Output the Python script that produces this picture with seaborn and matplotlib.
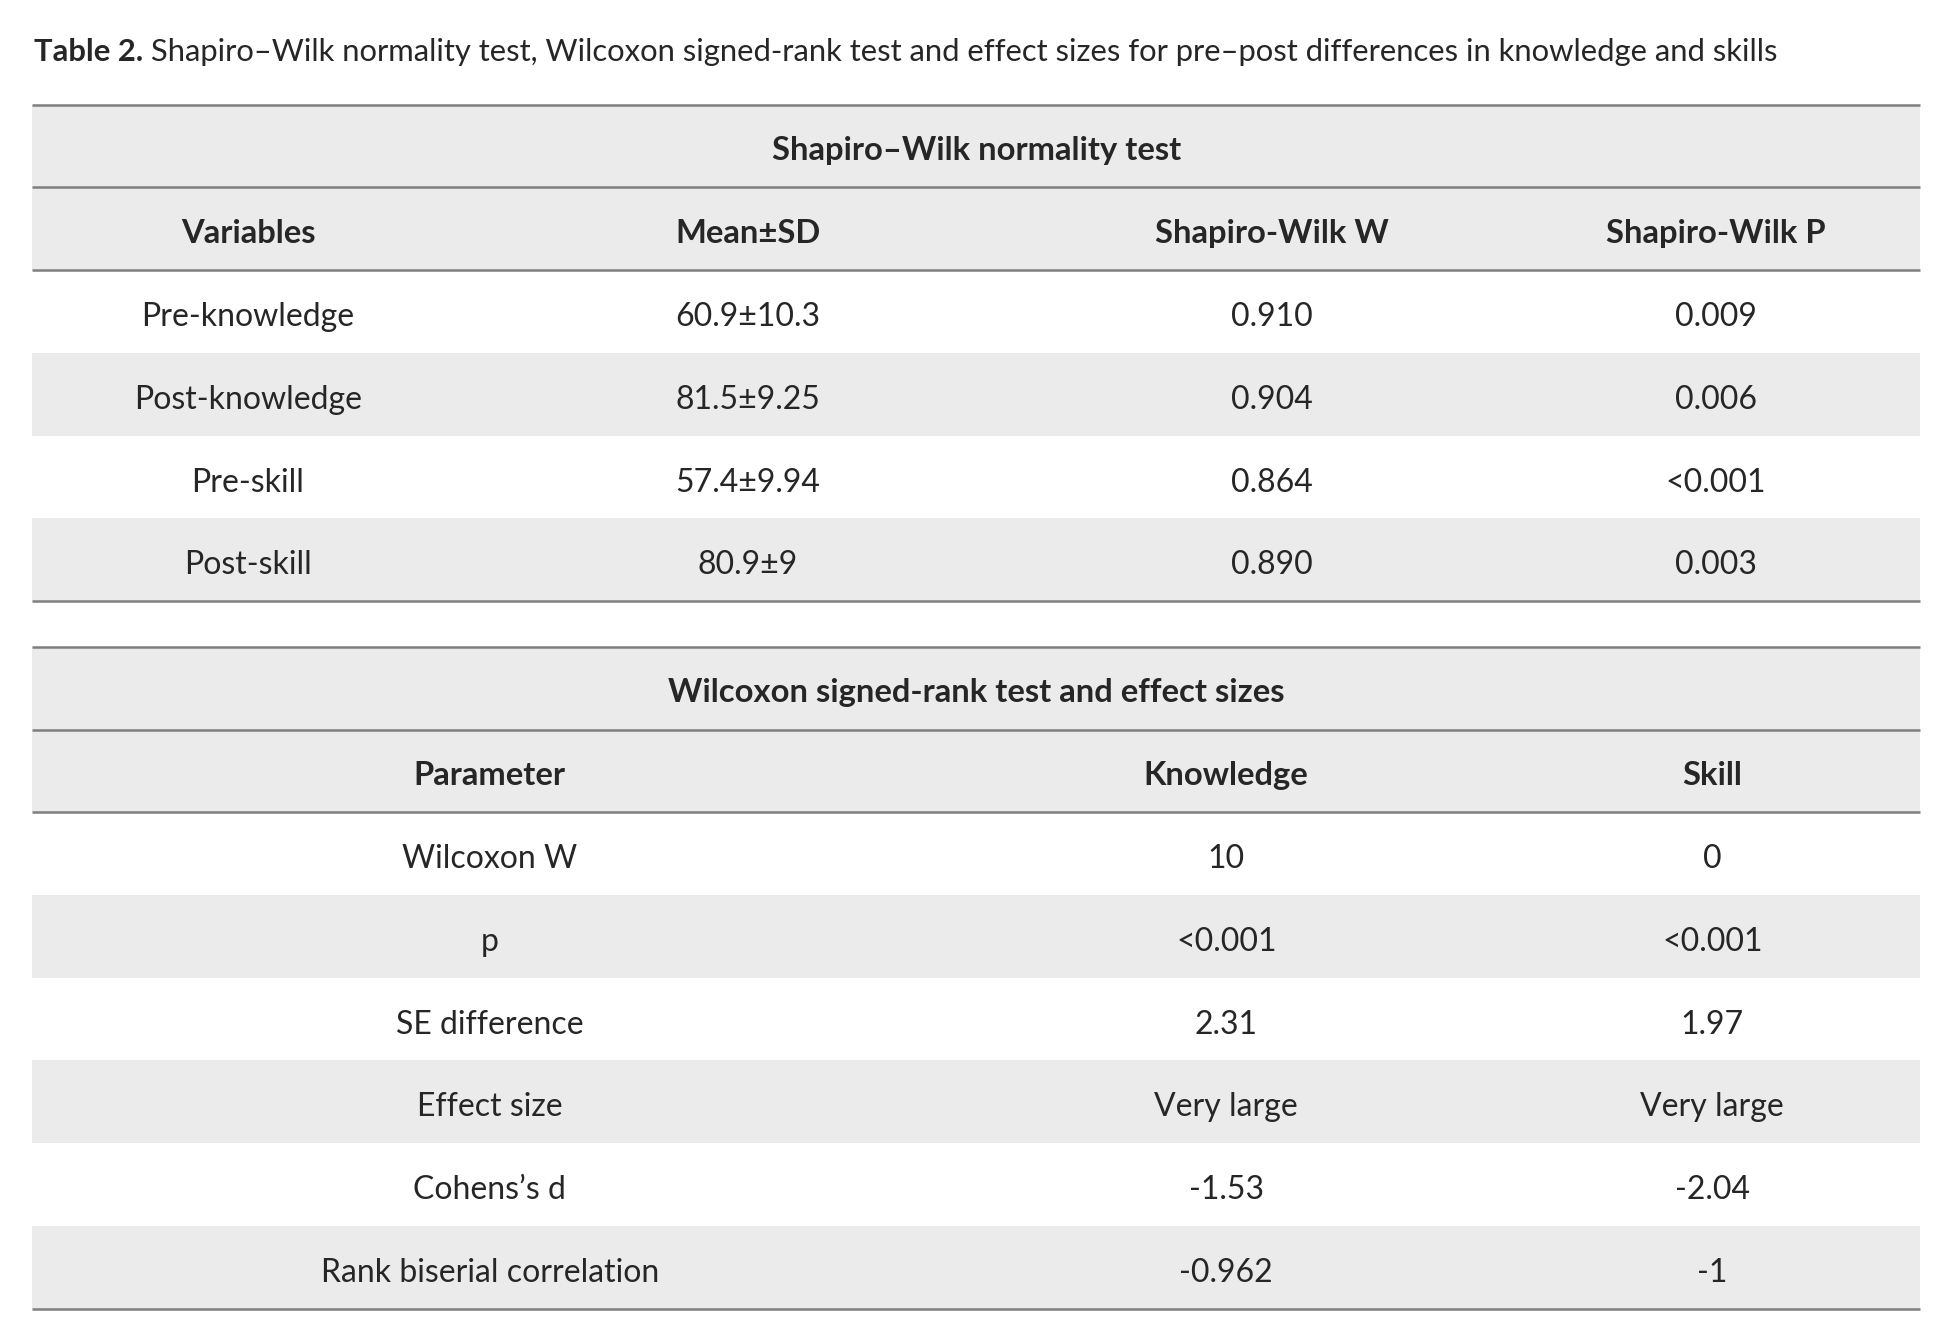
import matplotlib
matplotlib.use("Agg")
import matplotlib.pyplot as plt
import seaborn as sns

sns.set_theme(style="white")
plt.rcParams['font.family'] = ['Lato', 'DejaVu Sans']

# Table data
caption_bold = "Table 2."
caption_text = " Shapiro–Wilk normality test, Wilcoxon signed-rank test and effect sizes for pre–post differences in knowledge and skills"

sw_title = "Shapiro–Wilk normality test"
sw_columns = ["Variables", "Mean±SD", "Shapiro-Wilk W", "Shapiro-Wilk P"]
sw_variables = ["Pre-knowledge", "Post-knowledge", "Pre-skill", "Post-skill"]
sw_mean_sd = ["60.9±10.3", "81.5±9.25", "57.4±9.94", "80.9±9"]
sw_w = ["0.910", "0.904", "0.864", "0.890"]
sw_p = ["0.009", "0.006", "<0.001", "0.003"]

wx_title = "Wilcoxon signed-rank test and effect sizes"
wx_columns = ["Parameter", "Knowledge", "Skill"]
wx_parameters = ["Wilcoxon W", "p", "SE difference", "Effect size", "Cohens’s d", "Rank biserial correlation"]
wx_knowledge = ["10", "<0.001", "2.31", "Very large", "-1.53", "-0.962"]
wx_skill = ["0", "<0.001", "1.97", "Very large", "-2.04", "-1"]

# Layout (pixels of the 1954x1322 figure)
W, H = 1954, 1322
S = 1954 / 1568
left, right = 26 * S, 1541 * S
row_h = 66.4 * S
band = "#ebebeb"
rule = "#7f7f7f"
fs = 23
fs_head = 23.6
fs_cap = 22.3
dy_head = 3.5 * S
dy_body = 4.5 * S

fig = plt.figure(figsize=(W / 100, H / 100), dpi=100)
ax = fig.add_axes([0, 0, 1, 1])
ax.set_xlim(0, W)
ax.set_ylim(H, 0)
ax.axis("off")

t = ax.text(27 * S, 42 * S, caption_bold, fontsize=fs_cap, fontweight="bold", va="center", ha="left")
fig.canvas.draw()
bb = t.get_window_extent().transformed(ax.transData.inverted())
ax.text(bb.x1, 42 * S, caption_text, fontsize=fs_cap, va="center", ha="left")


def draw_table(top, title, columns, col_x, rows):
    n_rows = len(rows[0])
    # title band and header band
    for i in range(2):
        ax.fill_between([left, right], top + i * row_h, top + (i + 1) * row_h, color=band, lw=0)
    for r in range(n_rows):
        if r % 2 == 1:
            y0 = top + (r + 2) * row_h
            ax.fill_between([left, right], y0, y0 + row_h, color=band, lw=0)
    for k in range(3):
        ax.plot([left, right], [top + k * row_h] * 2, color=rule, lw=1.8, solid_capstyle="butt")
    ax.plot([left, right], [top + (n_rows + 2) * row_h] * 2, color=rule, lw=1.8, solid_capstyle="butt")
    ax.text((left + right) / 2, top + 0.5 * row_h + dy_head, title, fontsize=fs_head,
            fontweight="bold", ha="center", va="center")
    for c, name in enumerate(columns):
        ax.text(col_x[c], top + 1.5 * row_h + dy_head, name, fontsize=fs_head, fontweight="bold",
                ha="center", va="center")
    for c, col in enumerate(rows):
        for r, val in enumerate(col):
            ax.text(col_x[c], top + (r + 2.5) * row_h + dy_body, val, fontsize=fs,
                    ha="center", va="center")


draw_table(84 * S, sw_title, sw_columns, [199 * S, 600 * S, 1021 * S, 1377 * S],
           [sw_variables, sw_mean_sd, sw_w, sw_p])
draw_table(519 * S, wx_title, wx_columns, [393 * S, 984 * S, 1374 * S],
           [wx_parameters, wx_knowledge, wx_skill])

plt.savefig("out.png", dpi=100, facecolor="white")
